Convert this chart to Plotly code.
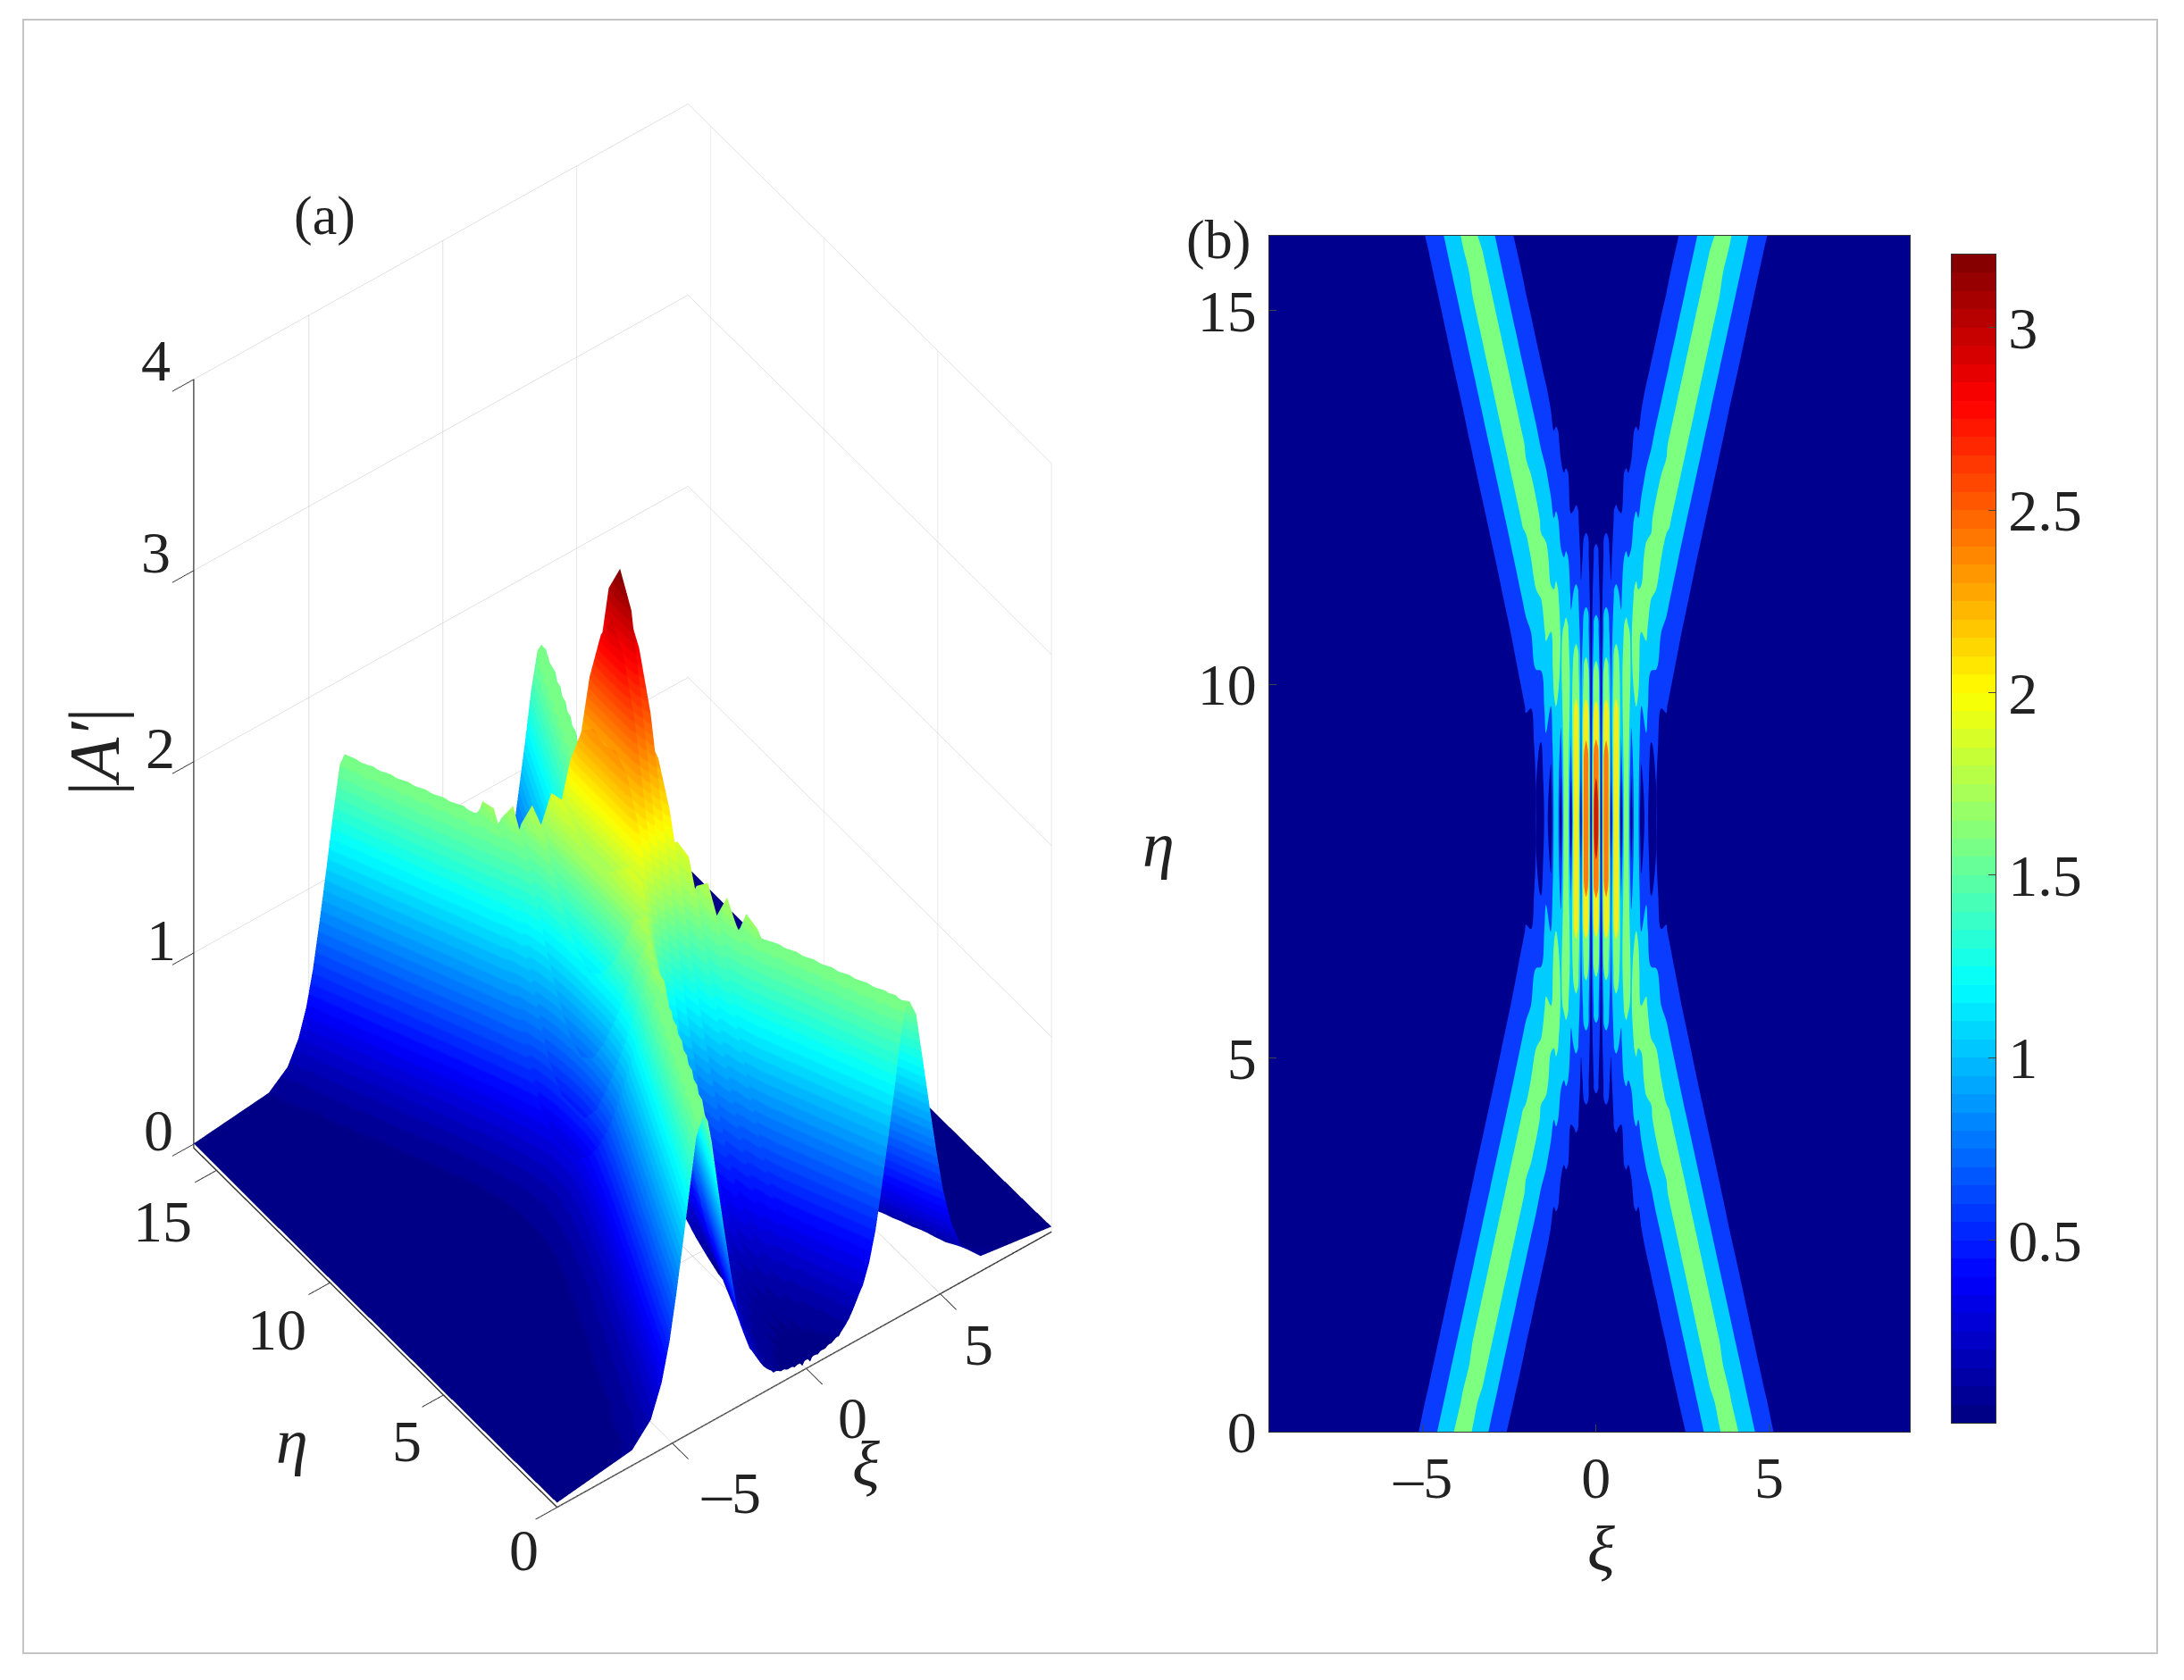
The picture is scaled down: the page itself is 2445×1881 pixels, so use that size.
"""Soliton collision figure: surface of |A'| (a) and its contour map (b)."""

import numpy as np
import plotly.graph_objects as go

FONT = "Liberation Serif"
W, H = 2445, 1881
SCALE = 1.559  # label spots below were measured on a 1568 px wide copy

# values, one quarter of the pattern: it repeats about xi=0 and eta=8.2
xi_half = [0, 0.145, 0.29, 0.435, 0.58, 0.725, 0.87, 1.015, 1.16, 1.305, 1.45, 1.595, 1.74, 1.885, 2.03,
           2.115, 2.35, 2.585, 2.82, 3.055, 3.29, 3.525,
           3.67, 3.85, 4.1, 4.35, 4.6, 4.85, 5.1, 5.4, 5.8, 6.5, 9.5]
# fringe crests in the middle of the picture are wide: shoulders beside each crest column
crest_columns = [0, 2, 4, 6, 8]
crest_halfwidth = 0.06
crest_shoulder = 0.96
eta_center = 8.2
eta_dist = [0, 0.5, 1, 1.5, 2, 2.5, 3, 3.5, 4, 4.5, 5, 5.5, 6, 6.5, 7, 7.5, 7.8, 8.2]
amp_rows = [
    [3.20, .05, 2.96, .05, 2.32, .05, 1.74, .05, 1.18, .04, .76, .03, .52, .02, .32,
     .28, .20, .14, .10, .08, .06, .04, .03, .03, .02, .015, .01, .01, .005, 0, 0, 0, 0],
    [3.04, .21, 2.82, .48, 2.35, .48, 1.74, .44, 1.23, .34, .81, .23, .52, .14, .33,
     .28, .21, .15, .11, .08, .06, .04, .03, .03, .02, .015, .01, .01, .005, 0, 0, 0, 0],
    [2.56, .32, 2.54, .77, 2.28, .95, 1.81, .84, 1.34, .68, .945, .47, .62, .30, .40,
     .35, .25, .18, .13, .095, .07, .045, .04, .02, .02, .01, .01, .005, .005, 0, 0, 0, 0],
    [2.07, .29, 2.09, .88, 2.07, 1.21, 1.88, 1.21, 1.50, .98, 1.13, .74, .795, .51, .52,
     .455, .32, .225, .16, .115, .08, .06, .045, .035, .025, .015, .01, .01, .005, 0, 0, 0, 0],
    [1.60, .29, 1.63, .815, 1.74, 1.265, 1.86, 1.42, 1.685, 1.285, 1.33, 1.01, 1.00, .745, .69,
     .615, .435, .30, .21, .15, .11, .075, .06, .045, .03, .02, .015, .01, .005, 0, 0, 0, 0],
    [1.16, .24, 1.225, .705, 1.385, 1.115, 1.615, 1.445, 1.76, 1.50, 1.555, 1.29, 1.22, 1.00, .905,
     .82, .595, .415, .29, .205, .145, .10, .08, .06, .045, .03, .02, .015, .01, .005, 0, 0, 0],
    [.81, .18, .885, .56, 1.08, .92, 1.315, 1.275, 1.60, 1.535, 1.72, 1.525, 1.47, 1.255, 1.14,
     1.05, .81, .59, .41, .285, .20, .14, .115, .085, .06, .04, .03, .02, .015, .01, .005, 0, 0],
    [.56, .125, .62, .40, .795, .725, 1.04, 1.05, 1.32, 1.39, 1.60, 1.575, 1.67, 1.505, 1.385,
     1.29, 1.04, .80, .58, .405, .28, .195, .16, .12, .085, .06, .04, .03, .02, .015, .01, 0, 0],
    [.39, .085, .435, .28, .565, .53, .785, .83, 1.055, 1.14, 1.355, 1.46, 1.65, 1.59, 1.57,
     1.56, 1.28, 1.035, .80, .58, .405, .28, .225, .175, .12, .085, .06, .04, .03, .02, .01, .005, 0],
    [.28, .05, .31, .185, .40, .36, .565, .605, .815, .91, 1.09, 1.22, 1.40, 1.56, 1.59,
     1.60, 1.56, 1.28, 1.035, .80, .58, .405, .325, .245, .17, .12, .08, .055, .04, .025, .015, .005, 0],
    [.20, .035, .225, .125, .28, .25, .395, .425, .59, .675, .85, .975, 1.135, 1.285, 1.45,
     1.56, 1.60, 1.56, 1.28, 1.035, .80, .58, .47, .35, .24, .165, .115, .08, .055, .04, .02, .01, 0],
    [.14, .02, .155, .095, .20, .17, .275, .295, .41, .485, .62, .745, .90, 1.04, 1.19,
     1.28, 1.56, 1.60, 1.56, 1.28, 1.035, .80, .655, .505, .34, .235, .16, .11, .08, .05, .03, .01, 0],
    [.10, .015, .11, .07, .14, .125, .19, .20, .28, .34, .43, .54, .66, .805, .95,
     1.035, 1.28, 1.56, 1.60, 1.56, 1.28, 1.035, .89, .71, .50, .335, .23, .16, .11, .07, .04, .015, 0],
    [.076, .01, .08, .05, .10, .09, .135, .15, .19, .24, .30, .37, .47, .585, .715,
     .80, 1.035, 1.28, 1.56, 1.60, 1.56, 1.28, 1.125, .945, .695, .485, .325, .22, .155, .10, .05, .02, 0],
    [.05, .01, .06, .04, .07, .065, .09, .10, .13, .165, .21, .27, .33, .405, .51,
     .58, .80, 1.035, 1.28, 1.56, 1.60, 1.56, 1.38, 1.18, .93, .68, .47, .32, .22, .14, .075, .03, 0],
    [.04, .005, .04, .03, .05, .05, .065, .07, .09, .12, .15, .19, .23, .30, .35,
     .405, .58, .80, 1.035, 1.28, 1.56, 1.60, 1.575, 1.44, 1.17, .915, .665, .46, .31, .20, .105, .04, 0],
    [.03, .005, .03, .025, .04, .04, .05, .06, .075, .095, .12, .155, .195, .24, .29,
     .325, .47, .66, .895, 1.13, 1.39, 1.58, 1.60, 1.56, 1.32, 1.055, .805, .57, .39, .245, .13, .05, 0],
    [.025, .005, .025, .02, .03, .03, .04, .045, .055, .07, .09, .115, .15, .19, .23,
     .25, .35, .50, .71, .94, 1.18, 1.44, 1.56, 1.60, 1.515, 1.255, .995, .745, .52, .325, .165, .06, 0],
]

cbar_ticks = [0.5, 1, 1.5, 2, 2.5, 3]
cbar_labels = ["0.5", "1", "1.5", "2", "2.5", "3"]
contour_levels = (0.5, 3.0, 0.5)
# band colours of panel (b), lowest band first
band_colors = ["#00008f", "#0a3cff", "#00ccff", "#7dff80", "#f2ee20", "#ff7a10", "#c81e10"]


def jet_scale(n=64):
    """Stepped jet colorscale, as the MATLAB colormap."""
    scale = []
    for i in range(n):
        t = (i + 0.5) / n
        r = np.clip(min(4 * t - 1.5, -4 * t + 4.5), 0, 1)
        g = np.clip(min(4 * t - 0.5, -4 * t + 3.5), 0, 1)
        b = np.clip(min(4 * t + 0.5, -4 * t + 2.5), 0, 1)
        color = f"rgb({int(r * 255)},{int(g * 255)},{int(b * 255)})"
        scale += [[i / n, color], [(i + 1) / n, color]]
    return scale


def band_scale(colors):
    scale = []
    for i, c in enumerate(colors):
        scale += [[i / len(colors), c], [(i + 1) / len(colors), c]]
    return scale


# put the shoulders in
xi_cols, col_index, col_factor = [], [], []
for i, v in enumerate(xi_half):
    if i in crest_columns and i > 0:
        xi_cols.append(v - crest_halfwidth)
        col_index.append(i)
        col_factor.append(crest_shoulder)
    xi_cols.append(v)
    col_index.append(i)
    col_factor.append(1.0)
    if i in crest_columns:
        xi_cols.append(v + crest_halfwidth)
        col_index.append(i)
        col_factor.append(crest_shoulder)

# unfold the quarter table
half = np.array(amp_rows)[:, col_index] * np.array(col_factor)
right = np.vstack([half[::-1], half[1:17]])
eta = [eta_center - d for d in eta_dist[::-1]] + [eta_center + d for d in eta_dist[1:17]]
xi = [-v for v in xi_cols[:0:-1]] + xi_cols
amp = np.hstack([right[:, :0:-1], right])

fig = go.Figure()

# (a) surface
fig.add_trace(
    go.Surface(
        x=xi,
        y=eta,
        z=amp,
        colorscale=jet_scale(),
        cmin=0,
        cmax=3.2,
        showscale=False,
        lighting=dict(ambient=1, diffuse=0, specular=0, roughness=1, fresnel=0),
        hoverinfo="skip",
    )
)

# (b) filled contours
fig.add_trace(
    go.Contour(
        x=xi,
        y=eta,
        z=amp,
        xaxis="x",
        yaxis="y",
        showscale=False,
        colorscale=band_scale(band_colors),
        autocontour=False,
        contours=dict(
            start=contour_levels[0], end=contour_levels[1], size=contour_levels[2], coloring="fill"
        ),
        line=dict(width=0),
        hoverinfo="skip",
    )
)

# colour bar of (b), its own little axes: a plotly colorbar pushes the margins
cbar_y = np.arange(64) * 0.05 + 0.025
fig.add_trace(
    go.Heatmap(
        x=[0, 1],
        y=cbar_y,
        z=[[v, v] for v in cbar_y],
        xaxis="x2",
        yaxis="y2",
        colorscale=jet_scale(),
        zmin=0,
        zmax=3.2,
        showscale=False,
        hoverinfo="skip",
    )
)

axis3d = dict(
    showbackground=False,
    showspikes=False,
    zeroline=False,
    title="",
    gridcolor="#c4c4c4",
    gridwidth=1,
    showline=True,
    linecolor="#333333",
    linewidth=3,
    ticks="outside",
    ticklen=30,
    tickwidth=2,
    tickcolor="#333333",
    showticklabels=False,
)
axis2d = dict(
    ticks="inside",
    ticklen=8,
    mirror=True,
    showline=True,
    linecolor="#333333",
    showgrid=False,
    zeroline=False,
    tickfont=dict(family=FONT, size=66, color="#222222"),
)

eye = np.array([-0.402, -0.5356, 0.7425]) * 1.5
fig.update_layout(
    width=W,
    height=H,
    autosize=False,
    margin=dict(l=0, r=0, t=0, b=0, pad=0, autoexpand=False),
    paper_bgcolor="white",
    plot_bgcolor="white",
    showlegend=False,
    scene=dict(
        domain=dict(x=[77 / W, 1317 / W], y=[1 - 1702 / H, 1 - 102 / H]),
        aspectmode="manual",
        aspectratio=dict(x=0.865, y=0.847, z=1.606),
        camera=dict(
            eye=dict(x=eye[0], y=eye[1], z=eye[2]),
            up=dict(x=0, y=0, z=1),
            center=dict(x=0, y=0, z=0),
            projection=dict(type="orthographic"),
        ),
        xaxis=dict(axis3d, range=[-9.3, 9.15], tickvals=[-5, 0, 5]),
        yaxis=dict(axis3d, range=[0, 16], tickvals=[0, 5, 10, 15]),
        # floor just below zero so its grid does not show through the flat part of the surface
        zaxis=dict(axis3d, range=[-0.02, 4], tickvals=[0, 1, 2, 3, 4]),
    ),
    xaxis=dict(
        axis2d,
        domain=[1421 / W, 2138 / W],
        range=[-9.45, 9.07],
        tickvals=[-5, 0, 5],
        ticktext=["–5", "0", "5"],
        ticklabelstandoff=-6,
    ),
    yaxis=dict(
        axis2d,
        domain=[1 - 1603 / H, 1 - 264 / H],
        range=[0, 16],
        tickvals=[0, 5, 10, 15],
    ),
    xaxis2=dict(
        domain=[2185 / W, 2234 / W],
        range=[0, 1],
        anchor="y2",
        showline=True,
        mirror=True,
        linecolor="#333333",
        ticks="",
        showticklabels=False,
        showgrid=False,
        zeroline=False,
    ),
    yaxis2=dict(
        axis2d,
        domain=[1 - 1593 / H, 1 - 285 / H],
        range=[0, 3.2],
        side="right",
        anchor="x2",
        tickvals=cbar_ticks,
        ticktext=cbar_labels,
    ),
    shapes=[
        dict(
            type="rect",
            xref="paper",
            yref="paper",
            x0=26 / W,
            x1=2415 / W,
            y0=1 - 1851 / H,
            y1=1 - 22 / H,
            line=dict(color="#c4c4c4", width=2),
        ),
    ],
)


def label(text, tx, ty, size=66, angle=0):
    """Text at a spot given in 1568 px wide coordinates."""
    fig.add_annotation(
        text=text,
        x=tx * SCALE / W,
        y=1 - ty * SCALE / H,
        xref="paper",
        yref="paper",
        xanchor="center",
        yanchor="middle",
        showarrow=False,
        textangle=angle,
        font=dict(family=FONT, size=size, color="#222222"),
    )


label("(a)", 233, 155, size=62)
label("(b)", 875, 172, size=62)
label("|<i>A′</i>|", 68, 540, size=80, angle=-90)
label("<i>η</i>", 210, 1035, size=72)
label("<i>ξ</i>", 622, 1052, size=72)
label("<i>η</i>", 832, 607, size=72)
label("<i>ξ</i>", 1150, 1113, size=72)

# surface panel tick labels, the 3D text of plotly breaks under the orthographic camera
for txt, tx, ty in [("4", 112, 259), ("3", 112, 397), ("2", 115, 537), ("1", 116, 675), ("0", 114, 812),
                    ("15", 117, 877), ("10", 199, 955), ("5", 292, 1035), ("0", 376, 1113),
                    ("–5", 525, 1072), ("0", 612, 1018), ("5", 703, 966)]:
    label(txt, tx, ty, size=66)

fig.write_html(
    "out.html",
    config={"displayModeBar": False},
    post_script="document.body.style.margin = '0';",
)
